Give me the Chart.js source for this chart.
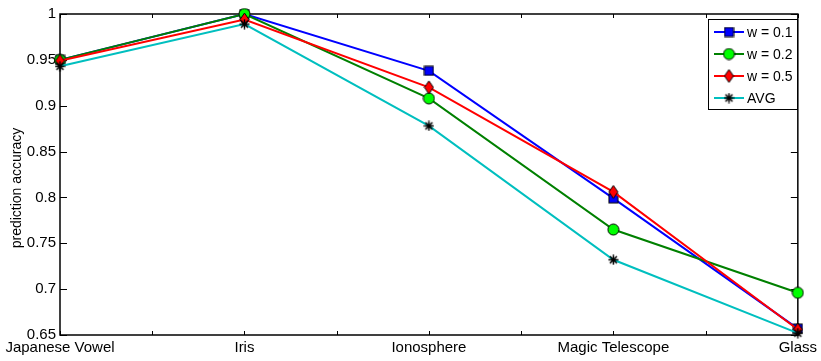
<!DOCTYPE html>
<html>
<head>
<meta charset="utf-8">
<script src="https://cdn.jsdelivr.net/npm/chart.js@4/dist/chart.umd.min.js"></script>
<style>
  body { margin: 0; background: #fff; }
  #wrap { width: 821px; height: 361px; }
</style>
</head>
<body>
<div id="wrap"><canvas id="chart" width="821" height="361"></canvas></div>
<script>
// datasets (x axis)
const categories = ["Japanese Vowel", "Iris", "Ionosphere", "Magic Telescope", "Glass"];

// prediction accuracy for each weight
const w01 = [0.950, 1.000, 0.938, 0.799, 0.657];
const w02 = [0.950, 1.000, 0.908, 0.765, 0.696];
const w05 = [0.949, 0.994, 0.920, 0.806, 0.656];
const avg = [0.943, 0.989, 0.878, 0.732, 0.652];

const seriesNames = ["w = 0.1", "w = 0.2", "w = 0.5", "AVG"];
const yTicks = [0.65, 0.7, 0.75, 0.8, 0.85, 0.9, 0.95, 1];

const FONT = "'Liberation Sans', Arial, sans-serif";

// little canvases used as markers (matlab style)
function makeMarker(w, h, draw) {
  const c = document.createElement("canvas");
  c.width = w;
  c.height = h;
  const g = c.getContext("2d");
  draw(g);
  return c;
}

const squareMk = makeMarker(11, 11, function (g) {
  g.fillStyle = "#0000ff";
  g.strokeStyle = "#000";
  g.lineWidth = 1;
  g.fillRect(1, 1, 9, 9);
  g.strokeRect(1, 1, 9, 9);
});

const circleMk = makeMarker(13, 13, function (g) {
  g.fillStyle = "#00ff00";
  g.strokeStyle = "#000";
  g.lineWidth = 1;
  g.beginPath();
  g.arc(6.5, 6.5, 5.5, 0, Math.PI * 2);
  g.fill();
  g.stroke();
});

const diamondMk = makeMarker(11, 15, function (g) {
  g.fillStyle = "#ff0000";
  g.strokeStyle = "#000";
  g.lineWidth = 1;
  g.beginPath();
  g.moveTo(5.5, 1);
  g.lineTo(10, 7.5);
  g.lineTo(5.5, 14);
  g.lineTo(1, 7.5);
  g.closePath();
  g.fill();
  g.stroke();
});

const starMk = makeMarker(11, 11, function (g) {
  g.strokeStyle = "#000";
  g.lineWidth = 1.5;
  g.beginPath();
  g.moveTo(5.5, 0.5); g.lineTo(5.5, 10.5);
  g.moveTo(0.5, 5.5); g.lineTo(10.5, 5.5);
  g.moveTo(2, 2); g.lineTo(9, 9);
  g.moveTo(9, 2); g.lineTo(2, 9);
  g.stroke();
});

function toPoints(arr) {
  return arr.map(function (v, i) { return { x: i, y: v }; });
}

const lineColors = ["#0000ff", "#008000", "#ff0000", "#00bfbf"];
const markers = [squareMk, circleMk, diamondMk, starMk];
const allSeries = [w01, w02, w05, avg];

const datasets = allSeries.map(function (arr, i) {
  return {
    label: seriesNames[i],
    data: toPoints(arr),
    borderColor: lineColors[i],
    backgroundColor: lineColors[i],
    borderWidth: 2,
    pointStyle: markers[i],
    pointRadius: 6,
    tension: 0,
    clip: false,
    order: 4 - i
  };
});

// axes box + inward ticks on every side + y title
const boxPlugin = {
  id: "box",
  beforeDatasetsDraw(chart) {
    const ctx = chart.ctx;
    const a = chart.chartArea;
    const xs = chart.scales.x;
    const ys = chart.scales.y;
    ctx.save();
    ctx.strokeStyle = "#000";
    ctx.lineWidth = 1;
    ctx.beginPath();
    for (let v = 0; v <= 4; v += 0.5) {
      const px = Math.round(xs.getPixelForValue(v)) + 0.5;
      ctx.moveTo(px, a.bottom); ctx.lineTo(px, a.bottom - 4);
      ctx.moveTo(px, a.top); ctx.lineTo(px, a.top + 4);
    }
    yTicks.forEach(function (v) {
      const py = Math.round(ys.getPixelForValue(v)) + 0.5;
      ctx.moveTo(a.left, py); ctx.lineTo(a.left + 7, py);
      ctx.moveTo(a.right, py); ctx.lineTo(a.right - 7, py);
    });
    ctx.stroke();
    ctx.lineWidth = 1.5;
    ctx.strokeRect(a.left, a.top, a.right - a.left, a.bottom - a.top);

    ctx.translate(17, 188);
    ctx.rotate(-Math.PI / 2);
    ctx.fillStyle = "#000";
    ctx.font = "14px " + FONT;
    ctx.textAlign = "center";
    ctx.textBaseline = "middle";
    ctx.fillText("prediction accuracy", 0, 0);
    ctx.restore();
  }
};

// legend box in the top right corner
const legendPlugin = {
  id: "mlegend",
  afterDraw(chart) {
    const ctx = chart.ctx;
    const bx = 708, by = 19, bw = 89, bh = 90;
    ctx.save();
    ctx.fillStyle = "#fff";
    ctx.fillRect(bx, by, bw, bh);
    ctx.strokeStyle = "#000";
    ctx.lineWidth = 1;
    ctx.strokeRect(bx + 0.5, by + 0.5, bw, bh);
    ctx.font = "14px " + FONT;
    ctx.textBaseline = "middle";
    ctx.fillStyle = "#000";
    chart.data.datasets.forEach(function (ds, i) {
      const y = 32 + i * 22;
      ctx.strokeStyle = ds.borderColor;
      ctx.lineWidth = 2;
      ctx.beginPath();
      ctx.moveTo(714, y);
      ctx.lineTo(744, y);
      ctx.stroke();
      const mk = ds.pointStyle;
      ctx.drawImage(mk, 729 - mk.width / 2, y - mk.height / 2);
      ctx.fillText(ds.label, 747, y + 1);
    });
    ctx.restore();
  }
};

const ctx = document.getElementById("chart").getContext("2d");

const chart = new Chart(ctx, {
  type: "line",
  data: { datasets: datasets },
  plugins: [boxPlugin, legendPlugin],
  options: {
    responsive: false,
    animation: false,
    layout: { padding: { left: 0, top: 14, right: 19, bottom: 0 } },
    plugins: { legend: { display: false }, tooltip: { enabled: false } },
    scales: {
      x: {
        type: "linear",
        min: 0,
        max: 4,
        grid: { display: false, drawTicks: false },
        border: { display: false },
        afterFit: function (s) { s.height = 26; },
        afterBuildTicks: function (s) {
          s.ticks = categories.map(function (c, i) { return { value: i }; });
        },
        ticks: {
          autoSkip: false,
          maxRotation: 0,
          padding: 4,
          color: "#000",
          font: { family: FONT, size: 15 },
          callback: function (v) { return categories[v]; }
        }
      },
      y: {
        min: 0.65,
        max: 1,
        grid: { display: false, drawTicks: false },
        border: { display: false },
        afterFit: function (s) { s.width = 60; },
        afterBuildTicks: function (s) {
          s.ticks = yTicks.map(function (v) { return { value: v }; });
        },
        ticks: {
          padding: 4,
          color: "#000",
          font: { family: FONT, size: 15 },
          callback: function (v) { return String(parseFloat(v.toFixed(2))); }
        }
      }
    }
  }
});
</script>
</body>
</html>
